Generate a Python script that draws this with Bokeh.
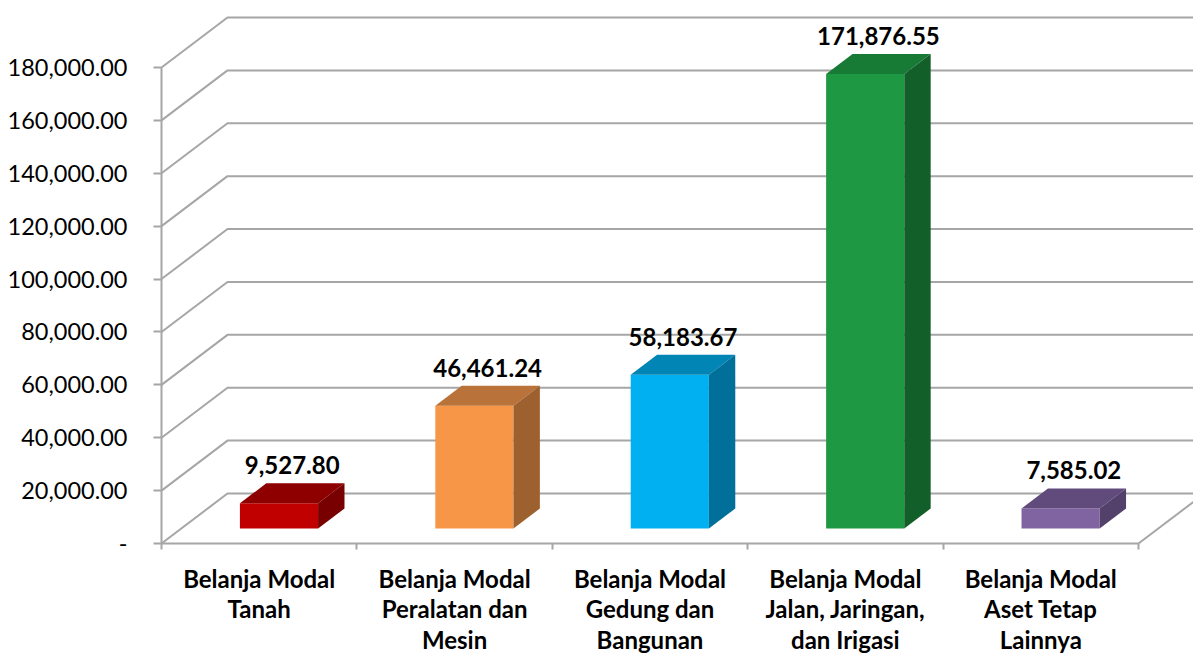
from bokeh.plotting import figure
from bokeh.models import Range1d, FixedTicker, NumeralTickFormatter, LinearAxis
from bokeh.embed import file_html
from bokeh.resources import INLINE
from bokeh.core.properties import value

# ---------------- data ----------------
categories = [
    "Belanja Modal\nTanah",
    "Belanja Modal\nPeralatan dan\nMesin",
    "Belanja Modal\nGedung dan\nBangunan",
    "Belanja Modal\nJalan, Jaringan,\ndan Irigasi",
    "Belanja Modal\nAset Tetap\nLainnya",
]
values = [9527.80, 46461.24, 58183.67, 171876.55, 7585.02]
value_labels = ["9,527.80", "46,461.24", "58,183.67", "171,876.55", "7,585.02"]
y_ticks = [0, 20000, 40000, 60000, 80000, 100000, 120000, 140000, 160000, 180000]

front_colors = ["#C00000", "#F79646", "#00B0F0", "#1E9842", "#8064A2"]
top_colors = ["#8E0000", "#B8723A", "#0085B5", "#177B35", "#614B7D"]
side_colors = ["#780000", "#9C612F", "#00709A", "#135F2A", "#53406B"]

# ---------------- geometry ----------------
W, H = 1193, 656
ORIG_X, ORIG_Y = 161, 543          # canvas px of front-axis origin
PX_PER_CAT = 195.4
PX_PER_VAL = 476 / 180000.0
DX = 66 / PX_PER_CAT               # depth offset of back wall (data units)
DY = 50 / PX_PER_VAL
F0, F1 = 0.3, 0.7                  # bar depth fractions
BAR_W = 0.4
N = len(categories)

x_range = Range1d(-ORIG_X / PX_PER_CAT, (W - ORIG_X) / PX_PER_CAT)
y_range = Range1d(-(H - ORIG_Y) / PX_PER_VAL, ORIG_Y / PX_PER_VAL)

p = figure(width=W, height=H, x_range=x_range, y_range=y_range,
           output_backend="svg", toolbar_location=None,
           x_axis_location=None, y_axis_location=None, min_border=0)
p.grid.visible = False
p.outline_line_color = None
p.background_fill_color = "white"
p.border_fill_color = "white"

GRID_C = "#A6A6A6"

# back wall gridlines + left side-wall diagonals
gx, gy = [], []
for t in y_ticks:
    gx.append([0, DX, N + 2])
    gy.append([t, t + DY, t + DY])
# floor right edge
gx.append([N, N + DX])
gy.append([0, DY])
p.multi_line(gx, gy, line_color=GRID_C, line_width=2)

# bars
fx0, fx1, fb, ft = [], [], [], []
top_xs, top_ys, side_xs, side_ys = [], [], [], []
ddx, ddy = (F1 - F0) * DX, (F1 - F0) * DY
lx, ly = [], []
for i, v in enumerate(values):
    x0 = i + (1 - BAR_W) / 2 + F0 * DX
    x1 = x0 + BAR_W
    yb = F0 * DY
    yt = v + F0 * DY
    fx0.append(x0); fx1.append(x1); fb.append(yb); ft.append(yt)
    top_xs.append([x0, x1, x1 + ddx, x0 + ddx])
    top_ys.append([yt, yt, yt + ddy, yt + ddy])
    side_xs.append([x1, x1 + ddx, x1 + ddx, x1])
    side_ys.append([yb, yb + ddy, yt + ddy, yt])
    lx.append(x0 + BAR_W / 2 + ddx / 2)
    ly.append(v + F1 * DY)

p.quad(left=fx0, right=fx1, bottom=fb, top=ft, fill_color=front_colors, line_color=None)
p.patches(top_xs, top_ys, fill_color=top_colors, line_color=None)
p.patches(side_xs, side_ys, fill_color=side_colors, line_color=None)

p.text(x=lx, y=ly, text=value_labels, text_align="center", text_baseline="middle",
       y_offset=-18, text_font=value("Lato"), text_font_style="bold",
       text_font_size="24px", text_color="#000000")

# y axis
yax = LinearAxis(fixed_location=0, bounds=(0, 180000),
                 ticker=FixedTicker(ticks=y_ticks),
                 formatter=NumeralTickFormatter(format="0,0.00"),
                 major_label_overrides={0: "-"})
yax.axis_line_color = GRID_C
yax.axis_line_width = 2
yax.major_tick_line_color = GRID_C
yax.major_tick_line_width = 2
yax.major_tick_out = 8
yax.major_tick_in = 0
yax.minor_tick_out = 0
yax.minor_tick_in = 0
yax.major_label_standoff = 26
yax.major_label_text_font = "Lato"
yax.major_label_text_font_size = "23.5px"
yax.major_label_text_color = "#000000"
p.add_layout(yax, "left")

# x axis
xax = LinearAxis(fixed_location=0, bounds=(0, N),
                 ticker=FixedTicker(ticks=[i + 0.5 for i in range(N)],
                                    minor_ticks=list(range(N + 1))),
                 major_label_overrides={i + 0.5: c for i, c in enumerate(categories)})
xax.axis_line_color = GRID_C
xax.axis_line_width = 2
xax.major_tick_out = 0
xax.major_tick_in = 0
xax.minor_tick_line_color = GRID_C
xax.minor_tick_line_width = 2
xax.minor_tick_out = 6
xax.minor_tick_in = 0
xax.major_label_standoff = 14
xax.major_label_text_font = "Lato"
xax.major_label_text_font_style = "bold"
xax.major_label_text_font_size = "24px"
xax.major_label_text_line_height = 1.06
xax.major_label_text_color = "#000000"
p.add_layout(xax, "below")

open("out.html", "w").write(file_html(p, INLINE))
